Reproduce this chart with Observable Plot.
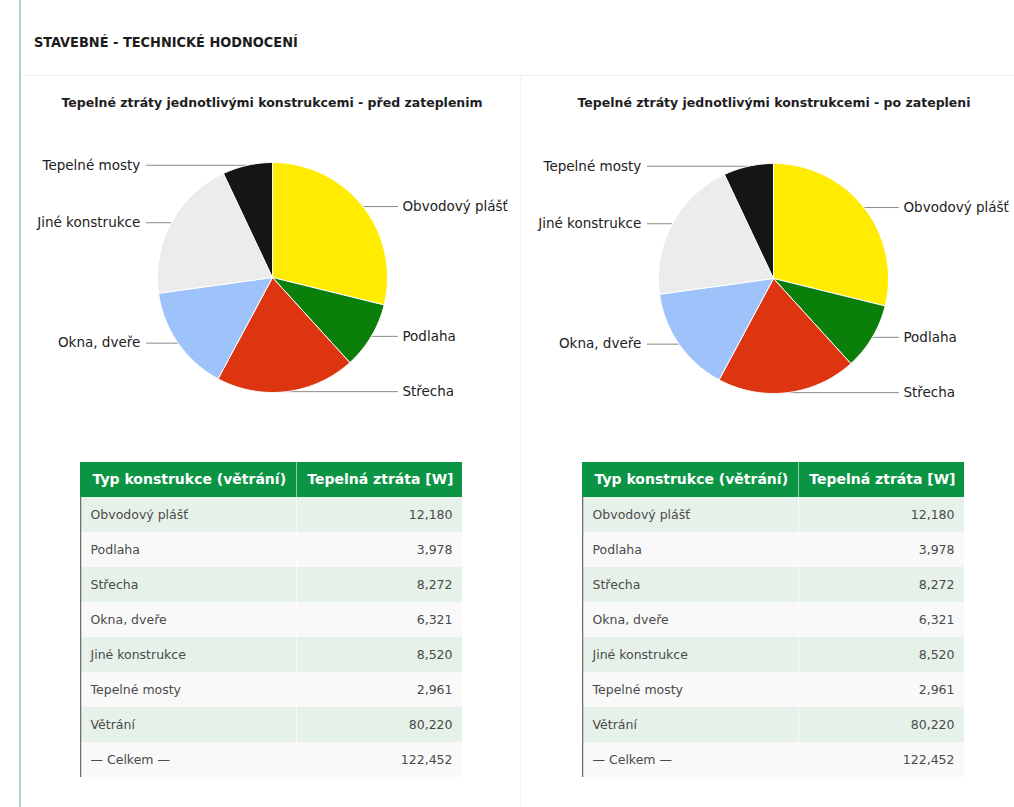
<!DOCTYPE html>
<html>
<head>
<meta charset="utf-8">
<script src="https://cdn.jsdelivr.net/npm/d3@7"></script>
<script src="https://cdn.jsdelivr.net/npm/@observablehq/plot@0.6"></script>
<style>
  html, body { margin: 0; padding: 0; background: #ffffff; }
  body { width: 1014px; height: 807px; position: relative; overflow: hidden; font-family: "DejaVu Sans", "Liberation Sans", Arial, sans-serif; }
  .abs { position: absolute; }
  #accent { left: 19px; top: 0; width: 2px; height: 807px; background: #a6d8c8; }
  #maintitle { left: 34px; top: 34px; font-family: "DejaVu Sans Condensed", "DejaVu Sans", sans-serif; font-weight: bold; font-size: 14.4px; color: #1c1c1c; }
  #hsep { left: 22px; top: 75px; width: 992px; height: 1px; background: #f0f0f0; }
  #vsep { left: 520px; top: 76px; width: 1px; height: 731px; background: #f2f2f2; }
  .ctitle { font-weight: bold; font-size: 12.5px; color: #1e1e1e; text-align: center; width: 500px; white-space: nowrap; }
  .holder { width: 500px; }
  .holder svg { max-width: none !important; }
</style>
</head>
<body>
<div id="accent" class="abs"></div>
<div id="maintitle" class="abs">STAVEBNÉ - TECHNICKÉ HODNOCENÍ</div>
<div id="hsep" class="abs"></div>
<div id="vsep" class="abs"></div>
<div id="t1" class="abs ctitle" style="left:22px; top:95px;">Tepelné ztráty jednotlivými konstrukcemi - před zateplenim</div>
<div id="t2" class="abs ctitle" style="left:524px; top:95px;">Tepelné ztráty jednotlivými konstrukcemi - po zatepleni</div>
<div id="pie1" class="abs holder" style="left:22px; top:127px;"></div>
<div id="pie2" class="abs holder" style="left:523px; top:128px;"></div>
<div id="tab1" class="abs holder" style="left:80px; top:460px;"></div>
<div id="tab2" class="abs holder" style="left:582px; top:460px;"></div>
<script>
// ---- data ----
const categories = ["Obvodový plášť", "Podlaha", "Střecha", "Okna, dveře", "Jiné konstrukce", "Tepelné mosty"];
const lossBefore = [12180, 3978, 8272, 6321, 8520, 2961];
const lossAfter  = [12180, 3978, 8272, 6321, 8520, 2961];
const sliceColors = ["#ffec00", "#0a7f0a", "#dd3510", "#9ec3fb", "#ececec", "#151515"];
const tableRows = ["Obvodový plášť", "Podlaha", "Střecha", "Okna, dveře", "Jiné konstrukce", "Tepelné mosty", "Větrání", "— Celkem —"];
const tableBefore = [12180, 3978, 8272, 6321, 8520, 2961, 80220, 122452];
const tableAfter  = [12180, 3978, 8272, 6321, 8520, 2961, 80220, 122452];
const tableHeader = ["Typ konstrukce (větrání)", "Tepelná ztráta [W]"];

const FONT = "'DejaVu Sans', 'Liberation Sans', Arial, sans-serif";

// ---- pie ----
const PW = 500, PH = 300, R = 115;
function pieChart(values) {
  const arcs = d3.pie().sort(null)(values);
  const poly = [];
  const labels = [];
  const leaders = [];
  arcs.forEach((a, i) => {
    const name = categories[i];
    const steps = Math.max(2, Math.ceil((a.endAngle - a.startAngle) / (Math.PI / 180)));
    poly.push({name, x: 0, y: 0});
    for (let k = 0; k <= steps; k++) {
      const t = a.startAngle + (a.endAngle - a.startAngle) * k / steps;
      poly.push({name, x: Math.sin(t), y: Math.cos(t)});
    }
    poly.push({name, x: 0, y: 0});
    const m = (a.startAngle + a.endAngle) / 2;
    const px = Math.sin(m), py = Math.cos(m);
    const right = px >= 0;
    leaders.push({name, x1: px, y1: py, x2: right ? 1.09 : -1.10, y2: py});
    labels.push({name, x: right ? 1.13 : -1.15, y: py, anchor: right ? "start" : "end"});
  });
  const hx = PW / 2 / R, hy = PH / 2 / R;
  return Plot.plot({
    width: PW, height: PH,
    margin: 0,
    x: {domain: [-hx, hx], axis: null},
    y: {domain: [-hy, hy], axis: null},
    color: {domain: categories, range: sliceColors},
    style: {fontFamily: FONT, background: "transparent", overflow: "visible"},
    marks: [
      Plot.link(leaders, {x1: "x1", y1: "y1", x2: "x2", y2: "y2", stroke: "#8a8a8a", strokeWidth: 1}),
      Plot.line(poly, {x: "x", y: "y", z: "name", fill: "name", stroke: "#ffffff", strokeWidth: 1, strokeLinejoin: "round", curve: "linear"}),
      Plot.text(labels.filter(d => d.anchor === "start"), {x: "x", y: "y", text: "name", textAnchor: "start", fontSize: 13.5, fill: "#222"}),
      Plot.text(labels.filter(d => d.anchor === "end"), {x: "x", y: "y", text: "name", textAnchor: "end", fontSize: 13.5, fill: "#222"})
    ]
  });
}
document.getElementById("pie1").appendChild(pieChart(lossBefore));
document.getElementById("pie2").appendChild(pieChart(lossAfter));

// ---- tables ----
const fmt = d3.format(",");
function tableChart(values) {
  const rows = tableRows.map((name, i) => ({name, value: values[i], odd: i % 2 === 0}));
  const yDomain = ["__header", ...tableRows];
  const TW = 382, TH = 319, split = 216 / 382;
  return Plot.plot({
    width: TW, height: TH,
    margin: 0,
    x: {domain: [0, 1], axis: null},
    y: {domain: yDomain, axis: null, padding: 0},
    style: {fontFamily: FONT, background: "transparent"},
    marks: [
      Plot.barX([{k: "__header"}], {x1: 0, x2: 1, y: "k", fill: "#0b9444"}),
      Plot.barX(rows, {x1: 0, x2: 1, y: "name", fill: d => d.odd ? "#e6f2e9" : "#f9f9f9"}),
      Plot.tickX(rows, {x: 0, y: "name", stroke: "#6d6d6d", strokeWidth: 1.5}),
      Plot.tickX([{k: "__header"}], {x: split, y: "k", stroke: "#8fcfa8", strokeWidth: 1}),
      Plot.tickX(rows, {x: split, y: "name", stroke: "#ffffff", strokeOpacity: 0.6, strokeWidth: 1}),
      Plot.text([{k: "__header", t: tableHeader[0]}], {y: "k", x: 0, text: "t", textAnchor: "start", dx: 12, fontSize: 14, fontWeight: "bold", fill: "#ffffff"}),
      Plot.text([{k: "__header", t: tableHeader[1]}], {y: "k", x: 1, text: "t", textAnchor: "end", dx: -9, fontSize: 14, fontWeight: "bold", fill: "#ffffff"}),
      Plot.text(rows, {y: "name", x: 0, text: "name", textAnchor: "start", dx: 10, fontSize: 12.5, fill: "#4a4a4a"}),
      Plot.text(rows, {y: "name", x: 1, text: d => fmt(d.value), textAnchor: "end", dx: -10, fontSize: 12.5, fill: "#4a4a4a"})
    ]
  });
}
document.getElementById("tab1").appendChild(tableChart(tableBefore));
document.getElementById("tab2").appendChild(tableChart(tableAfter));
</script>
</body>
</html>
